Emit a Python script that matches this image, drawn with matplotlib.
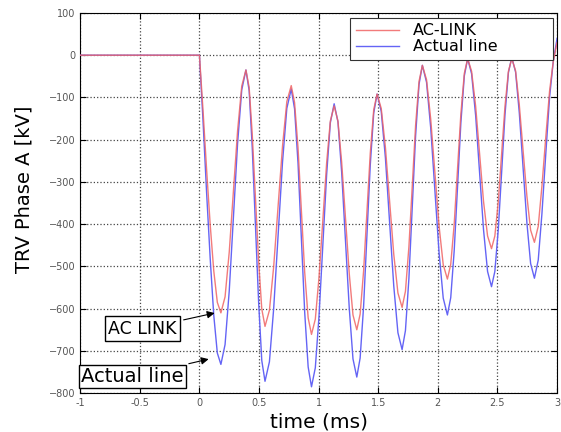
import matplotlib
matplotlib.use('Agg')
import matplotlib.pyplot as plt

# time in ms (same samples for both traces)
time_ms = [-1, 0,
           0.03, 0.06, 0.09, 0.12, 0.15, 0.18,
           0.215, 0.25, 0.285, 0.32, 0.355, 0.39,
           0.417, 0.443, 0.47, 0.497, 0.523, 0.55,
           0.587, 0.623, 0.66, 0.697, 0.733, 0.77,
           0.798, 0.827, 0.855, 0.883, 0.912, 0.94,
           0.972, 1.003, 1.035, 1.067, 1.098, 1.13,
           1.162, 1.193, 1.225, 1.257, 1.288, 1.32,
           1.348, 1.377, 1.405, 1.433, 1.462, 1.49,
           1.525, 1.56, 1.595, 1.63, 1.665, 1.70,
           1.728, 1.757, 1.785, 1.813, 1.842, 1.87,
           1.905, 1.94, 1.975, 2.01, 2.045, 2.08,
           2.108, 2.137, 2.165, 2.193, 2.222, 2.25,
           2.283, 2.317, 2.35, 2.383, 2.417, 2.45,
           2.478, 2.507, 2.535, 2.563, 2.592, 2.62,
           2.652, 2.683, 2.715, 2.747, 2.778, 2.81,
           2.842, 2.873, 2.905, 2.937, 2.968, 3.0]

# TRV phase A in kV
ac_link = [0, 0,
           -130, -270, -400, -510, -585, -610,
           -572, -466, -322, -179, -73, -35,
           -76, -187, -338, -490, -601, -642,
           -604, -500, -357, -215, -110, -72,
           -112, -219, -367, -514, -622, -661,
           -625, -526, -391, -255, -156, -120,
           -156, -253, -385, -518, -615, -650,
           -613, -511, -371, -232, -129, -92,
           -126, -218, -345, -471, -563, -597,
           -559, -454, -311, -167, -62, -24,
           -58, -151, -277, -404, -496, -530,
           -495, -400, -269, -139, -43, -8,
           -38, -121, -233, -346, -428, -458,
           -428, -346, -233, -121, -38, -8,
           -37, -117, -226, -334, -414, -443,
           -405, -310, -195, -85, -15, 30]

actual_line = [0, 0,
               -155, -325, -480, -615, -705, -732,
               -685, -558, -384, -209, -82, -35,
               -84, -219, -404, -588, -723, -772,
               -726, -599, -426, -253, -126, -80,
               -127, -256, -433, -609, -738, -785,
               -740, -618, -450, -283, -160, -115,
               -158, -277, -439, -600, -719, -762,
               -717, -595, -427, -260, -137, -92,
               -133, -243, -395, -546, -657, -697,
               -652, -529, -361, -192, -69, -24,
               -64, -172, -320, -467, -575, -615,
               -574, -463, -312, -160, -49, -8,
               -44, -143, -278, -413, -512, -548,
               -512, -412, -277, -141, -41, -5,
               -40, -136, -267, -397, -493, -528,
               -485, -375, -235, -100, -15, 40]

x_ticks = [-1, -0.5, 0, 0.5, 1, 1.5, 2, 2.5, 3]
x_tick_labels = ['-1', '-0.5', '0', '0.5', '1', '1.5', '2', '2.5', '3']
y_ticks = [100, 0, -100, -200, -300, -400, -500, -600, -700, -800]


def main():
    fig = plt.figure(figsize=(5.61, 4.32), dpi=100)
    ax = fig.add_axes([0.143, 0.09, 0.85, 0.88])

    ax.plot(time_ms, actual_line, color='#6464f5', lw=1.0, label='Actual line', zorder=3)
    ax.plot(time_ms, ac_link, color='#f06464', lw=1.0, alpha=0.85, label='AC-LINK', zorder=4)

    ax.set_xlim(-1, 3)
    ax.set_ylim(-800, 100)
    ax.set_xticks(x_ticks)
    ax.set_xticklabels(x_tick_labels)
    ax.set_yticks(y_ticks)
    ax.tick_params(direction='in', top=True, right=True, labelsize=7,
                   labelcolor='#555555', length=4)
    ax.grid(True, linestyle=':', color='#444444', linewidth=0.9)

    ax.set_xlabel('time (ms)', fontsize=14.5)
    ax.set_ylabel('TRV Phase A [kV]', fontsize=14)
    ax.xaxis.set_label_coords(0.5, -0.05)
    ax.yaxis.set_label_coords(-0.098, 0.537)

    handles, labels = ax.get_legend_handles_labels()
    leg = ax.legend(handles[::-1], labels[::-1], loc='upper right', fontsize=11.5,
                    bbox_to_anchor=(0.566, 0.858, 0.426, 0.129), mode='expand',
                    fancybox=False, framealpha=1, edgecolor='#333333',
                    handlelength=2.7, handletextpad=0.9, borderaxespad=0,
                    borderpad=0.35, labelspacing=0.05)
    leg.get_frame().set_linewidth(0.8)
    leg.set_zorder(10)

    arrow = dict(arrowstyle='-|>', color='black', lw=0.8, mutation_scale=11)
    ax.annotate('AC LINK', xy=(0.15, -609), xytext=(-0.476, -648),
                fontsize=12.5, ha='center', va='center',
                bbox=dict(boxstyle='square,pad=0.2', fc='white', ec='black', lw=1),
                arrowprops=arrow, zorder=11)
    ax.annotate('Actual line', xy=(0.1, -718), xytext=(-0.56, -761),
                fontsize=14, ha='center', va='center',
                bbox=dict(boxstyle='square,pad=0.12', fc='white', ec='black', lw=1),
                arrowprops=arrow, zorder=11)

    fig.savefig('out.png', dpi=100)


if __name__ == '__main__':
    main()
